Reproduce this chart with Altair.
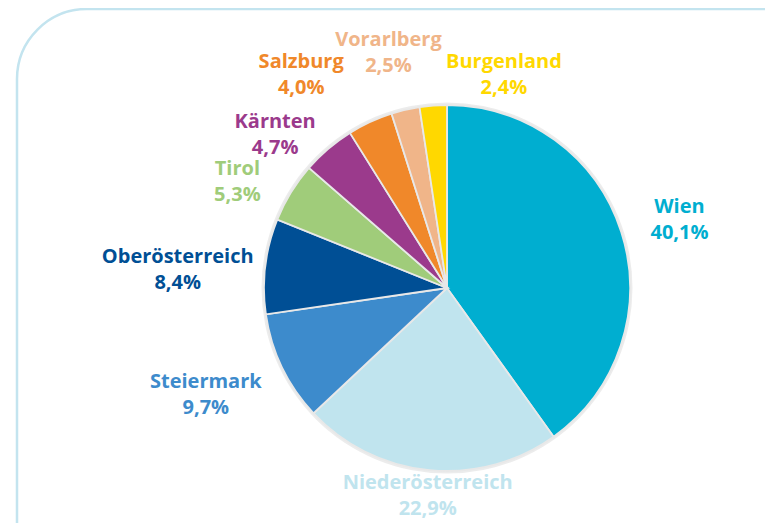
import math
import altair as alt
import pandas as pd

regions = ["Wien", "Niederösterreich", "Steiermark", "Oberösterreich", "Tirol",
           "Kärnten", "Salzburg", "Vorarlberg", "Burgenland"]
shares = [40.1, 22.9, 9.7, 8.4, 5.3, 4.7, 4.0, 2.5, 2.4]
colors = ["#00aed0", "#c0e4ee", "#3d8bcc", "#004f95", "#a0cc7a",
          "#9b3a8c", "#f0882a", "#f0b589", "#ffd800"]

df = pd.DataFrame({
    "region": regions,
    "share": shares,
    "idx": list(range(len(regions))),
})
df["label"] = [f"{r}\n{format(s, '.1f').replace('.', ',')}%" for r, s in zip(regions, shares)]
total = float(sum(shares))

color_scale = alt.Scale(domain=regions, range=colors)

# label nudges (pixels) relative to the slice's mid-angle at radius 240
nudges = {
    "Wien": (4, -8),
    "Niederösterreich": (4, -44),
    "Steiermark": (-25, -10),
    "Oberösterreich": (-31, -2),
    "Tirol": (-5, 6),
    "Kärnten": (-16, 16),
    "Salzburg": (-45, -8),
    "Vorarlberg": (-4, -14),
    "Burgenland": (75, 13),
}

frame = alt.Chart(pd.DataFrame({"a": [0]})).mark_rect(
    fill="white", fillOpacity=0, stroke="#c3e4ef", strokeWidth=2.5, cornerRadius=70
).encode(
    x=alt.value(-112), y=alt.value(-49), x2=alt.value(900), y2=alt.value(800)
)

shadow = alt.Chart(pd.DataFrame({"a": [0]})).mark_arc(
    theta=0, theta2=2 * math.pi, outerRadius=185.5, opacity=0.35
).encode(color=alt.value("#c8c8c8"))

pie = alt.Chart(df).mark_arc(
    outerRadius=183, stroke="#e8e8e8", strokeWidth=1.8
).encode(
    theta=alt.Theta("share:Q", stack=True),
    color=alt.Color("region:N", scale=color_scale, legend=None),
    order=alt.Order("idx:Q"),
)

text_base = alt.Chart(df).transform_window(
    cum="sum(share)", sort=[alt.SortField("idx")], frame=[None, 0]
).transform_calculate(mid="datum.cum - datum.share / 2")

labels = []
for r in regions:
    dx, dy = nudges[r]
    labels.append(
        text_base.transform_filter(alt.datum.region == r).mark_text(
            radius=240, dx=dx, dy=dy, font="Open Sans", fontSize=20, fontWeight="bold",
            lineBreak="\n", lineHeight=26, align="center", baseline="middle"
        ).encode(
            theta=alt.Theta("mid:Q", stack=None, scale=alt.Scale(domain=[0, total])),
            text="label:N",
            color=alt.Color("region:N", scale=color_scale, legend=None),
        )
    )

chart = alt.layer(frame, shadow, pie, *labels).resolve_scale(theta="independent").properties(
    width=636, height=460,
    padding={"left": 121, "top": 50, "right": 0, "bottom": 5},
    autosize="none",
).configure_view(stroke=None)

chart.save("out.html", embed_options={"renderer": "svg", "actions": False})
